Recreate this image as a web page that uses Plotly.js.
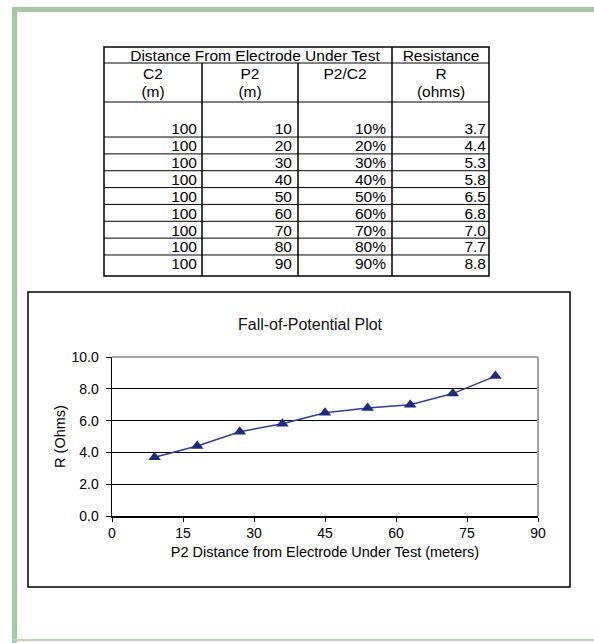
<!DOCTYPE html>
<html><head><meta charset="utf-8">
<script src="https://cdn.plot.ly/plotly-3.0.1.min.js"></script>
<style>html,body{margin:0;padding:0;background:#fff;} #chart{width:594px;height:643px;}</style>
</head><body><div id="chart"></div>
<script>
// ---- data ----
const c2Distance = [100, 100, 100, 100, 100, 100, 100, 100, 100];
const p2Distance = [10, 20, 30, 40, 50, 60, 70, 80, 90];
const p2OverC2 = ['10%', '20%', '30%', '40%', '50%', '60%', '70%', '80%', '90%'];
const resistance = [3.7, 4.4, 5.3, 5.8, 6.5, 6.8, 7.0, 7.7, 8.8];
const plotDistance = [9, 18, 27, 36, 45, 54, 63, 72, 81];
const xTicks = [0, 15, 30, 45, 60, 75, 90];
const yTicks = [0, 2, 4, 6, 8, 10];
const headerTop = ['Distance From Electrode Under Test', 'Resistance'];
const headerSub1 = ['C2', 'P2', 'P2/C2', 'R'];
const headerSub2 = ['(m)', '(m)', '', '(ohms)'];
const chartTitle = 'Fall-of-Potential Plot';
const xTitle = 'P2 Distance from Electrode Under Test (meters)';
const yTitle = 'R (Ohms)';

// ---- layout helpers ----
const W = 594, H = 643;
const FONT = 'Liberation Sans, Arial, Helvetica, sans-serif';
const px = x => x / W;
const py = y => 1 - y / H;
// table rows: row index -> pixel via yaxis2 (row units)
const ROW0 = 128.6, ROWH = 16.85;
const r = y => (y - ROW0) / ROWH;
const rows = resistance.map((_, i) => i);
const TEXT_SHIFT = 0.12; // text sits slightly low in each row

const colRight = [197, 292, 386, 486];
const colCenter = [153, 250, 345, 441];
const topCenter = [255, 441];

function textTrace(xs, ys, texts, pos) {
  return {
    type: 'scatter', mode: 'text', x: xs, y: ys, text: texts,
    textposition: pos, xaxis: 'x2', yaxis: 'y2', hoverinfo: 'skip',
    textfont: {family: FONT, size: 15.5, color: '#000'}, showlegend: false, cliponaxis: false
  };
}
const rowY = rows.map(i => i + TEXT_SHIFT);

const traces = [
  {
    type: 'scatter', mode: 'lines+markers', x: plotDistance, y: resistance,
    line: {color: '#2f3c98', width: 1.5},
    marker: {symbol: 'triangle-up', size: 11, color: '#1f2a80'},
    showlegend: false, cliponaxis: false
  },
  textTrace(rows.map(() => colRight[0]), rowY, c2Distance.map(String), 'middle left'),
  textTrace(rows.map(() => colRight[1]), rowY, p2Distance.map(String), 'middle left'),
  textTrace(rows.map(() => colRight[2]), rowY, p2OverC2, 'middle left'),
  textTrace(rows.map(() => colRight[3]), rowY, resistance.map(v => v.toFixed(1)), 'middle left'),
  textTrace(topCenter, topCenter.map(() => r(57.5)), headerTop, 'middle center'),
  textTrace(colCenter, colCenter.map(() => r(75.5)), headerSub1, 'middle center'),
  textTrace(colCenter, colCenter.map(() => r(93)), headerSub2, 'middle center')
];

const tableLine = {color: '#000', width: 1};
const shapes = [
  // green frame
  {type: 'rect', xref: 'paper', yref: 'paper', x0: px(12), x1: px(594), y0: py(7), y1: py(12), fillcolor: '#a5c9a1', line: {width: 0}, layer: 'below'},
  {type: 'rect', xref: 'paper', yref: 'paper', x0: px(12), x1: px(17), y0: py(7), y1: py(643), fillcolor: '#a5c9a1', line: {width: 0}, layer: 'below'},
  {type: 'rect', xref: 'paper', yref: 'paper', x0: px(12), x1: px(594), y0: py(639), y1: py(641), fillcolor: '#b9d7b5', line: {width: 0}, layer: 'below'},
  // chart frame
  {type: 'rect', xref: 'paper', yref: 'paper', x0: px(28), x1: px(570), y0: py(292), y1: py(587), line: {color: '#000', width: 1.5}, layer: 'below'},
  // plot area grey top/right border
  {type: 'line', xref: 'paper', yref: 'paper', x0: px(112), x1: px(538), y0: py(357), y1: py(357), line: {color: '#a3a3a3', width: 2}, layer: 'above'},
  {type: 'line', xref: 'paper', yref: 'paper', x0: px(538), x1: px(538), y0: py(357), y1: py(516), line: {color: '#a3a3a3', width: 2}, layer: 'above'},
  // table outer box
  {type: 'rect', xref: 'x2', yref: 'y2', x0: 104, x1: 489, y0: r(47), y1: r(276), line: {color: '#000', width: 1.5}},
  // header lines
  {type: 'line', xref: 'x2', yref: 'y2', x0: 104, x1: 489, y0: r(63), y1: r(63), line: tableLine},
  {type: 'line', xref: 'x2', yref: 'y2', x0: 104, x1: 489, y0: r(102), y1: r(102), line: tableLine},
  // column separators
  {type: 'line', xref: 'x2', yref: 'y2', x0: 392, x1: 392, y0: r(47), y1: r(276), line: {color: '#000', width: 1.5}},
  {type: 'line', xref: 'x2', yref: 'y2', x0: 202, x1: 202, y0: r(63), y1: r(276), line: {color: '#000', width: 1.5}},
  {type: 'line', xref: 'x2', yref: 'y2', x0: 298, x1: 298, y0: r(63), y1: r(276), line: {color: '#000', width: 1.5}}
];
// row separators between data rows
rows.slice(0, -1).forEach(i => {
  shapes.push({type: 'line', xref: 'x2', yref: 'y2', x0: 104, x1: 489, y0: i + 0.5, y1: i + 0.5, line: tableLine});
});

const layout = {
  width: W, height: H,
  margin: {l: 0, r: 0, t: 0, b: 0},
  paper_bgcolor: '#fff', plot_bgcolor: 'rgba(0,0,0,0)',
  font: {family: FONT, color: '#000'},
  showlegend: false,
  title: {text: chartTitle, font: {family: FONT, size: 16, color: '#111'}, x: px(310), xref: 'paper', xanchor: 'center', y: py(324), yref: 'paper', yanchor: 'middle'},
  xaxis: {
    domain: [px(112), px(538)], range: [0, 90], tickvals: xTicks, ticks: 'outside', ticklen: 4, tickcolor: '#000', tickwidth: 1,
    showline: true, linecolor: '#000', linewidth: 1.5, showgrid: false, zeroline: false, fixedrange: true,
    tickfont: {family: FONT, size: 14, color: '#000'}, anchor: 'y', automargin: false,
    title: {text: xTitle, font: {family: FONT, size: 14.5, color: '#000'}, standoff: 6}
  },
  yaxis: {
    domain: [py(516), py(357)], range: [0, 10], tickvals: yTicks, tickformat: '.1f', ticks: 'outside', ticklen: 5, tickcolor: '#000',
    showline: true, linecolor: '#000', linewidth: 1.5, showgrid: true, gridcolor: '#000', gridwidth: 1.2, zeroline: false, fixedrange: true,
    tickfont: {family: FONT, size: 14, color: '#000'}, anchor: 'x', automargin: false, ticklabelstandoff: 4,
    title: {text: yTitle, font: {family: FONT, size: 14.5, color: '#000'}, standoff: 2}
  },
  xaxis2: {domain: [0, 1], range: [0, W], visible: false, anchor: 'y2', fixedrange: true},
  yaxis2: {domain: [0, 1], range: [r(H), r(0)], visible: false, anchor: 'x2', fixedrange: true},
  shapes: shapes
};

Plotly.newPlot('chart', traces, layout, {displayModeBar: false, staticPlot: true});
</script>
</body></html>
